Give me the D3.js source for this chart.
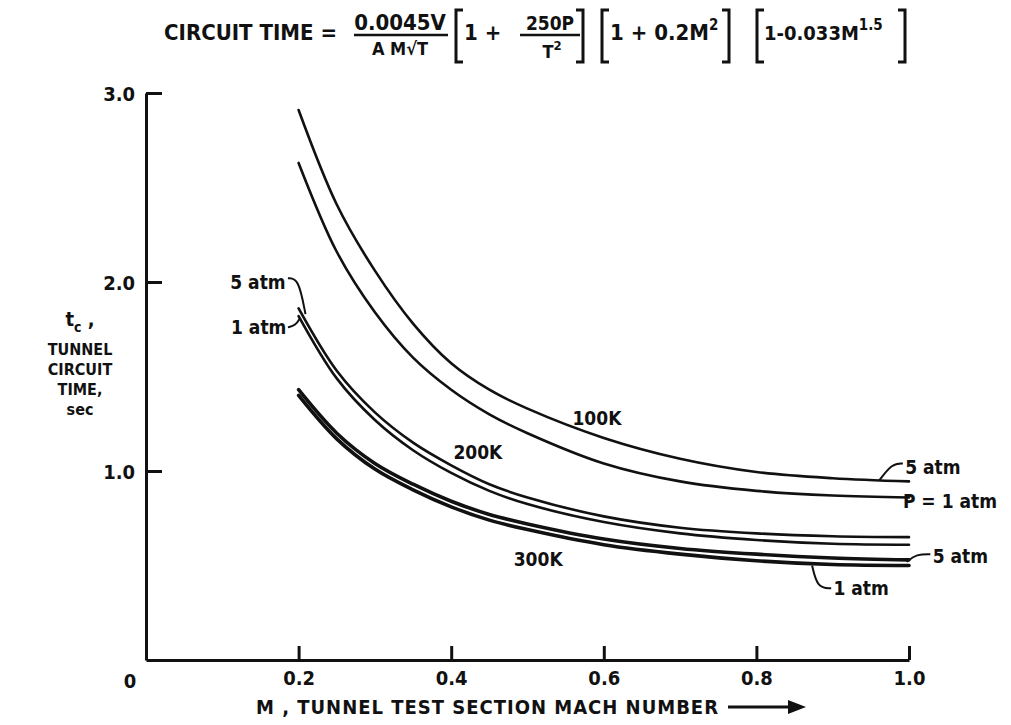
<!DOCTYPE html>
<html>
<head>
<meta charset="utf-8">
<script src="https://cdn.jsdelivr.net/npm/d3@7"></script>
<style>
  body { margin: 0; background: #fff; }
  svg text { font-family: "DejaVu Sans Condensed", "DejaVu Sans", sans-serif; font-weight: bold; fill: #111; }
</style>
</head>
<body>
<svg id="chart"></svg>
<script>
// Mach number samples and circuit time (sec)
const mach = [0.2, 0.25, 0.3, 0.35, 0.4, 0.45, 0.5, 0.6, 0.7, 0.8, 0.9, 1.0];
const t100k5 = [2.91, 2.41, 2.06, 1.78, 1.57, 1.43, 1.33, 1.175, 1.065, 0.995, 0.962, 0.945];
const t100k1 = [2.63, 2.16, 1.84, 1.60, 1.43, 1.30, 1.20, 1.04, 0.945, 0.895, 0.87, 0.86];
const t200k5 = [1.86, 1.53, 1.31, 1.15, 1.03, 0.93, 0.86, 0.76, 0.70, 0.67, 0.655, 0.65];
const t200k1 = [1.82, 1.49, 1.27, 1.11, 0.99, 0.895, 0.825, 0.73, 0.67, 0.635, 0.615, 0.61];
const t300k5 = [1.43, 1.20, 1.04, 0.93, 0.84, 0.77, 0.72, 0.64, 0.59, 0.56, 0.54, 0.53];
const t300k1 = [1.40, 1.17, 1.01, 0.90, 0.81, 0.74, 0.69, 0.61, 0.56, 0.525, 0.505, 0.50];

const xTicks = [0.2, 0.4, 0.6, 0.8, 1.0];
const yTicks = [1.0, 2.0, 3.0];

const width = 1011;
const height = 725;

const svg = d3.select('#chart')
  .attr('width', width)
  .attr('height', height);

const x = d3.scaleLinear().domain([0, 1]).range([146, 909]);
const y = d3.scaleLinear().domain([0, 3]).range([660, 93]);

// axes
const yAxis = svg.append('g')
  .attr('transform', `translate(${x(0)},0)`)
  .call(d3.axisLeft(y).tickValues(yTicks).tickSize(-16).tickSizeOuter(0).tickPadding(11)
    .tickFormat(d3.format('.1f')));

const xAxis = svg.append('g')
  .attr('transform', `translate(0,${y(0)})`)
  .call(d3.axisBottom(x).tickValues(xTicks).tickSize(-14).tickSizeOuter(0).tickPadding(11)
    .tickFormat(d3.format('.1f')));

[yAxis, xAxis].forEach(a => {
  a.selectAll('path, line').attr('stroke', '#111').attr('stroke-width', 3);
  a.selectAll('text').attr('font-size', 20).attr('fill', '#111')
    .style('font-family', '"DejaVu Sans Condensed", sans-serif').style('font-weight', 'bold');
});
yAxis.selectAll('text').attr('dy', '0.36em');

svg.append('text')
  .attr('x', x(0) - 16).attr('y', y(0) + 28)
  .attr('text-anchor', 'middle')
  .attr('font-size', 20)
  .text('0');

// curves
const series = [
  { vals: t100k5, w: 2.6 },
  { vals: t100k1, w: 2.6 },
  { vals: t200k5, w: 2.6 },
  { vals: t200k1, w: 2.6 },
  { vals: t300k5, w: 3.6 },
  { vals: t300k1, w: 3.6 }
];

const line = d3.line()
  .x(d => x(d[0]))
  .y(d => y(d[1]))
  .curve(d3.curveCatmullRom.alpha(0.5));

svg.append('g')
  .selectAll('path')
  .data(series)
  .join('path')
  .attr('fill', 'none')
  .attr('stroke', '#111')
  .attr('stroke-width', d => d.w)
  .attr('stroke-linecap', 'round')
  .attr('d', d => line(mach.map((m, i) => [m, d.vals[i]])));

// curve labels
const labels = [
  { text: '100K', m: 0.591, v: 1.28, anchor: 'middle' },
  { text: '200K', m: 0.435, v: 1.10, anchor: 'middle' },
  { text: '300K', m: 0.514, v: 0.53, anchor: 'middle' },
  { text: '5 atm', m: 0.183, v: 2.00, anchor: 'end' },
  { text: '1 atm', m: 0.184, v: 1.76, anchor: 'end' },
  { text: '5 atm', m: 0.995, v: 1.02, anchor: 'start' },
  { text: 'P = 1 atm', m: 0.992, v: 0.84, anchor: 'start' },
  { text: '5 atm', m: 1.031, v: 0.55, anchor: 'start' },
  { text: '1 atm', m: 0.901, v: 0.38, anchor: 'start' }
];

svg.append('g')
  .selectAll('text')
  .data(labels)
  .join('text')
  .attr('x', d => x(d.m))
  .attr('y', d => y(d.v))
  .attr('dy', '0.35em')
  .attr('text-anchor', d => d.anchor)
  .attr('font-size', 19)
  .text(d => d.text);

// leader lines from labels to curves
const leaders = [
  [[0.186, 2.02], [0.200, 2.02], [0.209, 1.83]],
  [[0.186, 1.76], [0.196, 1.77], [0.202, 1.81]],
  [[0.992, 1.04], [0.978, 1.04], [0.961, 0.95]],
  [[1.028, 0.56], [1.010, 0.56], [0.997, 0.52]],
  [[0.898, 0.38], [0.880, 0.38], [0.873, 0.50]]
];

svg.append('g')
  .selectAll('path')
  .data(leaders)
  .join('path')
  .attr('fill', 'none')
  .attr('stroke', '#111')
  .attr('stroke-width', 2)
  .attr('d', d3.line().x(d => x(d[0])).y(d => y(d[1])).curve(d3.curveBasis));

// y axis title
const yTitle = svg.append('g').attr('font-size', 16).attr('text-anchor', 'middle');
const tc = yTitle.append('text').attr('x', 80).attr('y', 326).attr('font-size', 20);
tc.append('tspan').text('t');
tc.append('tspan').attr('font-size', 14).attr('dy', 6).text('c');
tc.append('tspan').attr('dy', -6).text(' ,');
['TUNNEL', 'CIRCUIT', 'TIME,', 'sec'].forEach((s, i) => {
  yTitle.append('text').attr('x', 80).attr('y', 355 + i * 20).text(s);
});

// x axis title
svg.append('text')
  .attr('x', 256).attr('y', 714)
  .attr('font-size', 20)
  .attr('textLength', 462)
  .text('M , TUNNEL TEST SECTION MACH NUMBER');
svg.append('line')
  .attr('x1', 728).attr('x2', 792).attr('y1', 707).attr('y2', 707)
  .attr('stroke', '#111').attr('stroke-width', 3);
svg.append('path')
  .attr('d', 'M788,700 L806,707 L788,714 Z')
  .attr('fill', '#111');

// formula title
const title = svg.append('g').attr('font-size', 22);
title.append('text').attr('x', 164).attr('y', 40).text('CIRCUIT TIME =');
title.append('text').attr('x', 400).attr('y', 30).attr('text-anchor', 'middle').text('0.0045V');
title.append('line').attr('x1', 354).attr('x2', 448).attr('y1', 35).attr('y2', 35)
  .attr('stroke', '#111').attr('stroke-width', 2.5);
title.append('text').attr('x', 400).attr('y', 55).attr('text-anchor', 'middle').attr('font-size', 18)
  .text('A  M\u221AT');

function bracket(x0, x1) {
  const g = title.append('g').attr('fill', 'none').attr('stroke', '#111').attr('stroke-width', 3);
  g.append('path').attr('d', `M${x0 + 7},10 L${x0},10 L${x0},62 L${x0 + 7},62`);
  g.append('path').attr('d', `M${x1 - 7},10 L${x1},10 L${x1},62 L${x1 - 7},62`);
}
bracket(456, 583);
bracket(602, 729);
bracket(757, 905);

title.append('text').attr('x', 464).attr('y', 40).text('1 +');
title.append('text').attr('x', 550).attr('y', 30).attr('text-anchor', 'middle').attr('font-size', 19).text('250P');
title.append('line').attr('x1', 520).attr('x2', 580).attr('y1', 35).attr('y2', 35)
  .attr('stroke', '#111').attr('stroke-width', 2.5);
const den = title.append('text').attr('x', 552).attr('y', 58).attr('text-anchor', 'middle').attr('font-size', 18);
den.append('tspan').text('T');
den.append('tspan').attr('font-size', 13).attr('dy', -8).text('2');

const t2 = title.append('text').attr('x', 610).attr('y', 40);
t2.append('tspan').text('1 + 0.2M');
t2.append('tspan').attr('font-size', 15).attr('dy', -10).text('2');

const t3 = title.append('text').attr('x', 764).attr('y', 40).attr('font-size', 20);
t3.append('tspan').text('1-0.033M');
t3.append('tspan').attr('font-size', 15).attr('dy', -10).text('1.5');
</script>
</body>
</html>
